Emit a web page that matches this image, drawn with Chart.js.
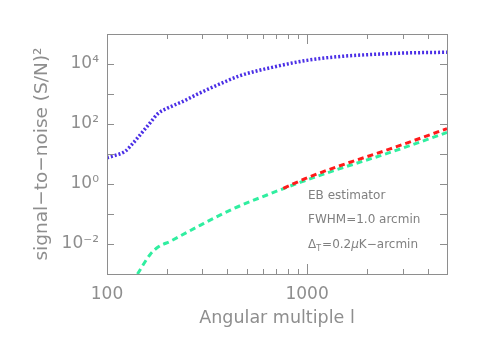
<!DOCTYPE html>
<html>
<head>
<meta charset="utf-8">
<script src="https://cdn.jsdelivr.net/npm/chart.js@4.4.1/dist/chart.umd.min.js"></script>
<style>
  html, body { margin: 0; padding: 0; background: #fff; }
</style>
</head>
<body>
<canvas id="c" width="480" height="343"></canvas>
<script>
// multipole l and (S/N)^2
const blueL  = [100, 110, 123, 135, 149, 164, 180, 199, 240, 286, 380, 462, 678, 996, 1462, 2140, 3150, 5000];
const blueSN = [7.5, 9, 12.2, 23, 50, 108, 225, 330, 570, 1020, 2400, 4070, 7900, 13200, 17800, 20900, 23400, 24600];

const greenL  = [142, 164, 180, 207, 292, 428, 630, 922, 1350, 2600, 5000];
const greenSN = [0.001, 0.0044, 0.0079, 0.0123, 0.042, 0.15, 0.43, 1.13, 2.75, 11.3, 52];

const redL  = [760, 1000, 1350, 2600, 5000];
const redSN = [0.72, 1.6, 3.4, 14.8, 70];

const xMajor = [100, 1000];
const xMinor = [200, 300, 400, 500, 600, 700, 800, 900, 2000, 3000, 4000, 5000];
const yDecades = [1e-3, 1e-2, 1e-1, 1, 1e1, 1e2, 1e3, 1e4, 1e5];
const yTickText = {'-2': '10⁻²', '0': '10⁰', '2': '10²', '4': '10⁴'};

const notes = ['EB estimator', 'FWHM=1.0 arcmin'];

const pts = (xs, ys) => xs.map((v, i) => ({x: v, y: ys[i]}));
const grey = '#8e8e8e';

const framePlugin = {
  id: 'frame',
  afterDatasetsDraw(chart) {
    const {ctx, chartArea: a, scales: {x, y}} = chart;
    ctx.save();
    ctx.strokeStyle = grey;
    ctx.lineWidth = 1;
    ctx.strokeRect(a.left + 0.5, a.top + 0.5, a.right - a.left, a.bottom - a.top);
    ctx.beginPath();
    xMajor.concat(xMinor).forEach(v => {
      const px = Math.round(x.getPixelForValue(v)) + 0.5;
      const len = xMajor.includes(v) ? 10 : 5;
      ctx.moveTo(px, a.bottom); ctx.lineTo(px, a.bottom - len);
      ctx.moveTo(px, a.top); ctx.lineTo(px, a.top + len);
    });
    yDecades.forEach(v => {
      const py = Math.round(y.getPixelForValue(v)) + 0.5;
      ctx.moveTo(a.left, py); ctx.lineTo(a.left + 7, py);
      ctx.moveTo(a.right, py); ctx.lineTo(a.right - 7, py);
    });
    ctx.stroke();

    // annotation text
    ctx.fillStyle = '#808080';
    ctx.font = '12px "DejaVu Sans"';
    ctx.textBaseline = 'middle';
    const tx = 308;
    ctx.fillText(notes[0], tx, 196);
    ctx.fillText(notes[1], tx, 220);
    ctx.fillText('Δ', tx, 245);
    let w = ctx.measureText('Δ').width;
    ctx.font = '8px "DejaVu Sans"';
    ctx.fillText('T', tx + w, 249);
    w += ctx.measureText('T').width + 1;
    ctx.font = '12px "DejaVu Sans"';
    ctx.fillText('=0.2', tx + w, 245);
    w += ctx.measureText('=0.2').width;
    ctx.font = 'italic 12px "DejaVu Sans"';
    ctx.fillText('μ', tx + w, 245);
    w += ctx.measureText('μ').width;
    ctx.font = '12px "DejaVu Sans"';
    ctx.fillText('K−arcmin', tx + w, 245);
    ctx.restore();
  }
};

new Chart(document.getElementById('c'), {
  type: 'line',
  data: {
    datasets: [
      {
        data: pts(redL, redSN),
        borderColor: '#ff1a1a',
        borderWidth: 3,
        borderDash: [6, 4],
        pointRadius: 0,
        cubicInterpolationMode: 'monotone'
      },
      {
        data: pts(greenL, greenSN),
        borderColor: '#30eea0',
        borderWidth: 3,
        borderDash: [6, 4],
        pointRadius: 0,
        cubicInterpolationMode: 'monotone'
      },
      {
        data: pts(blueL, blueSN),
        borderColor: '#4b2fe6',
        borderWidth: 3.5,
        borderDash: [2, 2],
        pointRadius: 0,
        cubicInterpolationMode: 'monotone'
      }
    ]
  },
  options: {
    responsive: false,
    animation: false,
    layout: { padding: { left: 0, right: 33, top: 34, bottom: 0 } },
    plugins: { legend: { display: false }, tooltip: { enabled: false } },
    scales: {
      x: {
        type: 'logarithmic',
        min: 100,
        max: 5000,
        grid: { display: false, drawTicks: false },
        border: { display: false },
        afterFit: s => { s.height = 69; },
        afterBuildTicks: s => { s.ticks = xMajor.concat(xMinor).map(v => ({value: v})); },
        ticks: {
          autoSkip: false,
          maxRotation: 0,
          padding: 10,
          color: grey,
          font: { family: 'DejaVu Sans', size: 17 },
          callback: v => xMajor.includes(v) ? String(v) : ''
        },
        title: {
          display: true,
          text: 'Angular multiple l',
          color: grey,
          font: { family: 'DejaVu Sans', size: 17.5 },
          padding: { top: 4, bottom: 14 }
        }
      },
      y: {
        type: 'logarithmic',
        min: 1e-3,
        max: 1e5,
        grid: { display: false, drawTicks: false },
        border: { display: false },
        afterFit: s => { s.width = 107; },
        afterBuildTicks: s => { s.ticks = yDecades.map(v => ({value: v})); },
        ticks: {
          autoSkip: false,
          padding: 8,
          color: grey,
          font: { family: 'DejaVu Sans', size: 17 },
          callback: v => {
            const e = Math.round(Math.log10(v));
            return yTickText[String(e)] || '';
          }
        },
        title: {
          display: true,
          text: 'signal−to−noise (S/N)²',
          color: grey,
          font: { family: 'DejaVu Sans', size: 18.5 },
          padding: { top: 31, bottom: 0 }
        }
      }
    }
  },
  plugins: [framePlugin]
});
</script>
</body>
</html>
